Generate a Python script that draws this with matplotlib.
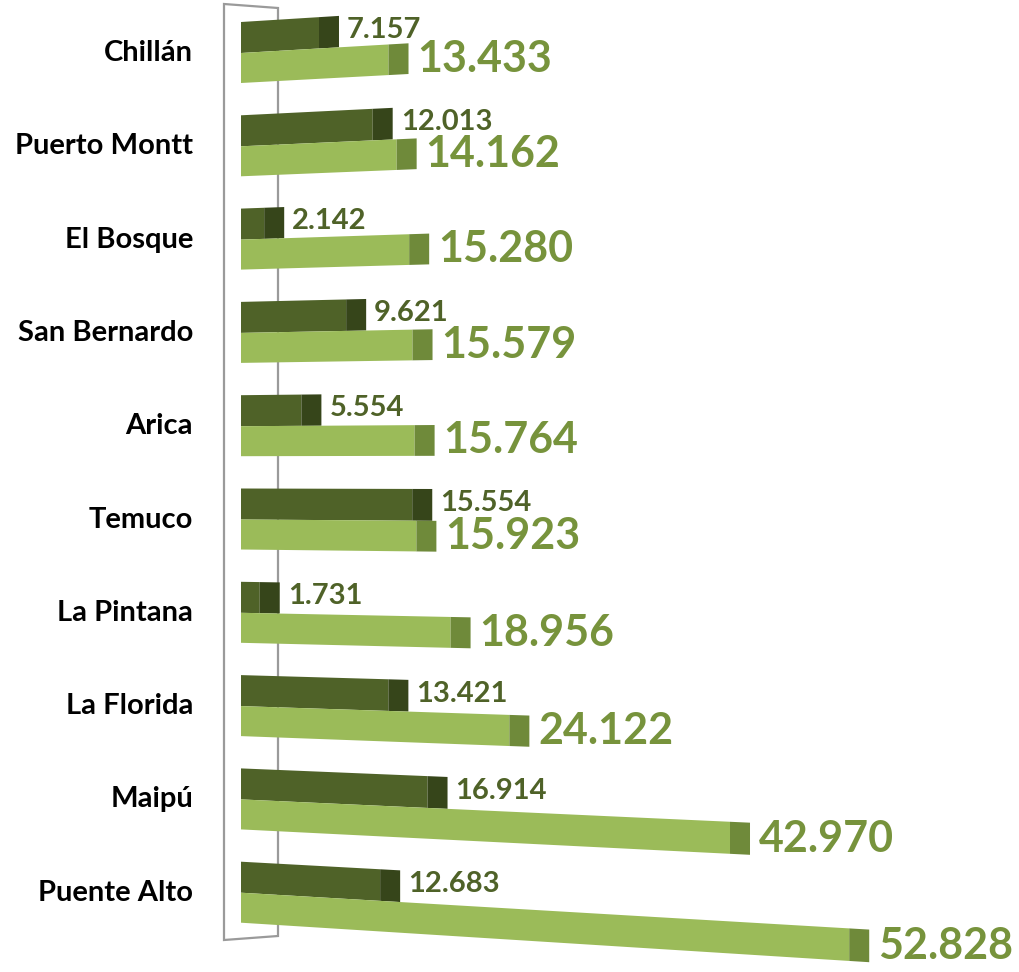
import matplotlib.pyplot as plt
import numpy as np
from matplotlib.patches import Polygon

# %% Data (values in thousands, shown with "." as thousands separator)
cities = [
    "Chillán", "Puerto Montt", "El Bosque", "San Bernardo", "Arica",
    "Temuco", "La Pintana", "La Florida", "Maipú", "Puente Alto",
]
dark_values = [7157, 12013, 2142, 9621, 5554, 15554, 1731, 13421, 16914, 12683]
light_values = [13433, 14162, 15280, 15579, 15764, 15923, 18956, 24122, 42970, 52828]

# %% Style
DARK_FRONT = "#4f6228"
DARK_SIDE = "#36451a"
LIGHT_FRONT = "#9bbb59"
LIGHT_SIDE = "#6f8a3a"
DARK_TEXT = "#4f6228"
LIGHT_TEXT = "#77933c"
WALL = "#9a9a9a"
FONT = "Lato"

W, H = 1019, 972
PX_PER_K = 10.8        # pixels per thousand at the front of the chart
STRETCH = 0.00125      # perspective stretch of long bars
ZERO_PX = 241          # where the bars start
ROW_PX = 93.3          # row spacing
TOP_PX = 22            # top of the first dark bar
SIDE_PX = 20           # depth of the bar end face
VP_Y_PX = 470          # vanishing height
VP_DIST_PX = 7200      # vanishing distance


def fwd(x):
    x = np.asarray(x, float)
    return x + STRETCH * x * np.abs(x)


def inv(u):
    u = np.asarray(u, float)
    return np.sign(u) * (np.sqrt(1 + 4 * STRETCH * np.abs(u)) - 1) / (2 * STRETCH)


def px_to_val(px):
    return float(inv((px - ZERO_PX) / PX_PER_K))


def px_to_row(py):
    return (py - TOP_PX) / ROW_PX


U_V = px_to_row(VP_Y_PX)
F_D = VP_DIST_PX / PX_PER_K


def edge(u0, v):
    """y of a bar edge starting at row height u0, at value v (in thousands)."""
    return u0 + (u0 - U_V) * fwd(v) / F_D


def draw_bar(ax, u0, u1, v, front, side):
    vs = float(inv(fwd(v) + SIDE_PX / PX_PER_K))
    ax.add_patch(Polygon(
        [(0, u0), (v, edge(u0, v)), (v, edge(u1, v)), (0, u1)],
        closed=True, facecolor=front, edgecolor="none", zorder=2))
    ax.add_patch(Polygon(
        [(v, edge(u0, v)), (vs, edge(u0, vs)), (vs, edge(u1, vs)), (v, edge(u1, v))],
        closed=True, facecolor=side, edgecolor="none", zorder=2))
    return vs, (edge(u0, vs) + edge(u1, vs)) / 2


def fmt(n):
    return f"{n:,}".replace(",", ".")


# %% Plot
fig = plt.figure(figsize=(W / 100, H / 100), dpi=100)
ax = fig.add_axes([0, 0, 1, 1])
ax.set_xscale("function", functions=(fwd, inv))
ax.set_xlim(px_to_val(0), px_to_val(W))
ax.set_ylim(px_to_row(H), px_to_row(0))
ax.axis("off")

# back wall of the chart
wl, wr = px_to_val(224), px_to_val(278)
ax.add_patch(Polygon(
    [(wl, px_to_row(4)), (wr, px_to_row(8)), (wr, px_to_row(936)), (wl, px_to_row(940))],
    closed=True, fill=False, edgecolor=WALL, linewidth=1.6, zorder=1))

label_x = 193 / W
for i, (city, dv, lv) in enumerate(zip(cities, dark_values, light_values)):
    top = float(i)
    mid = top + 31 / ROW_PX
    bot = top + 61 / ROW_PX

    xs, ys = draw_bar(ax, top, mid, dv / 1000, DARK_FRONT, DARK_SIDE)
    ax.annotate(fmt(dv), (xs, ys), xytext=(8, 2), textcoords="offset pixels",
                ha="left", va="center", fontsize=21, fontweight="bold",
                color=DARK_TEXT, family=FONT, zorder=3)

    xs, ys = draw_bar(ax, mid, bot, lv / 1000, LIGHT_FRONT, LIGHT_SIDE)
    ax.annotate(fmt(lv), (xs, ys), xytext=(9, 0), textcoords="offset pixels",
                ha="left", va="center", fontsize=31, fontweight="bold",
                color=LIGHT_TEXT, family=FONT, zorder=3)

    ax.text(label_x, mid, city, transform=ax.get_yaxis_transform(),
            ha="right", va="center", fontsize=21, fontweight="bold",
            color="black", family=FONT)

fig.savefig("out.png", dpi=100)
